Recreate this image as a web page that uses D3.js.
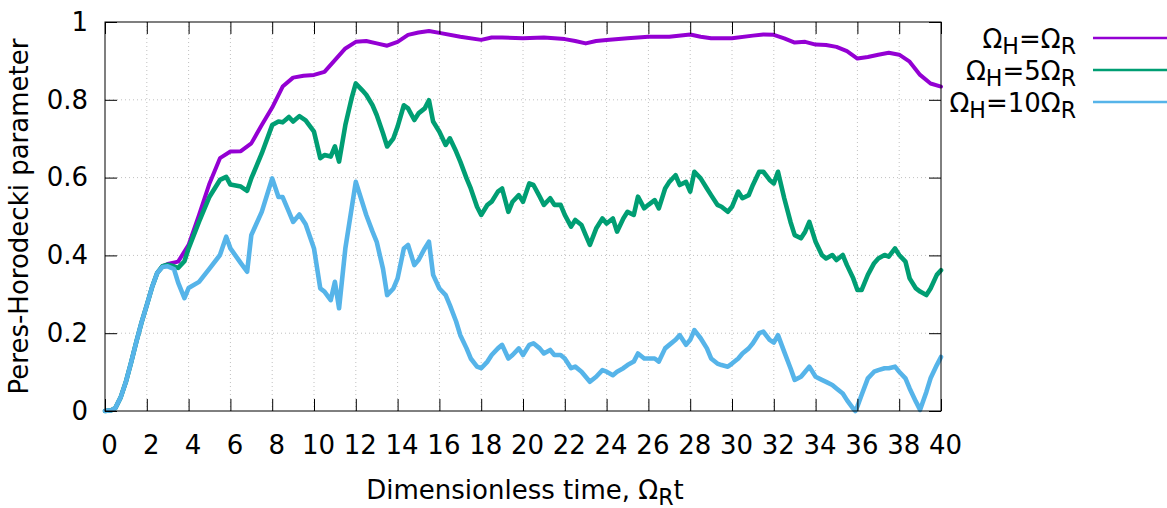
<!DOCTYPE html>
<html><head><meta charset="utf-8">
<script src="https://cdn.jsdelivr.net/npm/d3@7"></script>
<style>
html,body{margin:0;padding:0;background:#fff;}
text{font-family:"DejaVu Sans",Verdana,sans-serif;fill:#000;}
</style></head>
<body>
<svg id="chart" width="1167" height="508"></svg>
<script>
// ---------------- DATA ----------------
const xTicks = [0,2,4,6,8,10,12,14,16,18,20,22,24,26,28,30,32,34,36,38,40];
const yTicks = [0,0.2,0.4,0.6,0.8,1];
const yTickLabels = ["0","0.2","0.4","0.6","0.8","1"];
const seriesNames = ["ΩH=ΩR","ΩH=5ΩR","ΩH=10ΩR"];
// legend label parts: [text, isSubscript]
const legendParts = [
  [["Ω",0],["H",1],["=Ω",0],["R",1]],
  [["Ω",0],["H",1],["=5Ω",0],["R",1]],
  [["Ω",0],["H",1],["=10Ω",0],["R",1]]
];
const xTitleParts = [["Dimensionless time, Ω",0],["R",1],["t",0]];
const yTitle = "Peres-Horodecki parameter";

// Ω_H = Ω_R  [time, value]
const purpleData = [[0,0],[0.3,0.002],[0.5,0.008],[0.75,0.035],[1,0.075],[1.25,0.125],[1.5,0.178],[1.75,0.228],[2,0.272],[2.25,0.318],[2.5,0.355],[2.75,0.372],[3,0.378],
 [3.5,0.384],[4,0.427],[4.5,0.504],[5,0.585],[5.5,0.65],[6,0.667],[6.5,0.668],[7,0.688],[7.5,0.735],[8,0.78],[8.5,0.834],[9,0.857],[9.5,0.862],[10,0.864],[10.5,0.872],
 [11,0.902],[11.5,0.932],[12,0.949],[12.5,0.951],[13,0.945],[13.5,0.939],[14,0.949],[14.5,0.967],[15,0.973],[15.5,0.977],[16,0.972],[17,0.962],[18,0.954],[18.5,0.96],
 [19,0.96],[20,0.958],[21,0.96],[22,0.956],[22.5,0.951],[23,0.945],[23.5,0.951],[24,0.954],[25,0.958],[26,0.962],[27,0.962],[28,0.968],[28.5,0.962],[29,0.958],
 [30,0.958],[31,0.965],[31.5,0.968],[32,0.967],[32.5,0.958],[33,0.947],[33.5,0.949],[34,0.942],[34.5,0.941],[35,0.936],[35.5,0.925],[36,0.906],[36.5,0.91],
 [37,0.916],[37.5,0.921],[38,0.916],[38.5,0.898],[39,0.864],[39.5,0.842],[40,0.834]];

// Ω_H = 5Ω_R
const greenData = [[0,0],[0.3,0.002],[0.5,0.008],[0.75,0.035],[1,0.075],[1.25,0.125],[1.5,0.178],[1.75,0.228],[2,0.272],[2.25,0.318],[2.5,0.355],[2.75,0.372],[3,0.376],
 [3.3,0.372],[3.5,0.368],[3.8,0.385],[4,0.418],[4.5,0.487],[5,0.551],[5.5,0.594],[5.8,0.602],[6,0.582],[6.5,0.577],[6.8,0.566],[7,0.598],[7.5,0.662],[8,0.735],
 [8.3,0.744],[8.5,0.742],[8.8,0.756],[9,0.744],[9.3,0.758],[9.6,0.747],[10,0.718],[10.3,0.65],[10.5,0.658],[10.8,0.654],[11,0.68],[11.2,0.641],[11.5,0.735],
 [11.8,0.804],[12,0.842],[12.3,0.825],[12.5,0.813],[12.8,0.786],[13,0.761],[13.3,0.714],[13.5,0.68],[13.8,0.701],[14,0.731],[14.3,0.786],[14.5,0.778],
 [14.8,0.748],[15,0.765],[15.3,0.778],[15.5,0.799],[15.7,0.744],[16,0.718],[16.3,0.684],[16.5,0.701],[16.8,0.667],[17,0.641],[17.3,0.598],[17.5,0.572],
 [17.8,0.525],[18,0.504],[18.3,0.53],[18.5,0.538],[18.8,0.564],[19,0.572],[19.3,0.512],[19.5,0.538],[19.8,0.555],[20,0.538],[20.3,0.585],[20.5,0.581],
 [20.8,0.551],[21,0.53],[21.3,0.547],[21.5,0.53],[21.8,0.53],[22,0.504],[22.3,0.474],[22.5,0.491],[22.8,0.478],[23,0.452],[23.2,0.427],[23.5,0.469],
 [23.8,0.495],[24,0.482],[24.3,0.495],[24.5,0.461],[24.8,0.495],[25,0.512],[25.3,0.504],[25.5,0.551],[25.8,0.521],[26,0.53],[26.3,0.542],[26.5,0.521],
 [26.8,0.572],[27,0.589],[27.3,0.606],[27.5,0.581],[27.8,0.589],[28,0.564],[28.2,0.615],[28.5,0.598],[28.8,0.572],[29,0.555],[29.3,0.53],[29.5,0.525],
 [29.8,0.512],[30,0.525],[30.3,0.564],[30.5,0.547],[30.8,0.555],[31,0.581],[31.3,0.615],[31.5,0.615],[31.8,0.594],[32,0.585],[32.2,0.615],[32.5,0.547],
 [32.8,0.486],[33,0.452],[33.3,0.444],[33.5,0.461],[33.7,0.486],[34,0.435],[34.3,0.401],[34.5,0.392],[34.8,0.401],[35,0.388],[35.3,0.401],[35.5,0.375],
 [35.8,0.341],[36,0.311],[36.2,0.311],[36.5,0.35],[36.8,0.38],[37,0.392],[37.3,0.401],[37.5,0.397],[37.8,0.418],[38,0.401],[38.3,0.384],[38.5,0.341],
 [38.8,0.315],[39,0.307],[39.3,0.298],[39.5,0.315],[39.8,0.35],[40,0.362]];

// Ω_H = 10Ω_R
const blueData = [[0,0],[0.3,0.002],[0.5,0.008],[0.75,0.035],[1,0.075],[1.25,0.125],[1.5,0.178],[1.75,0.228],[2,0.272],[2.25,0.318],[2.5,0.355],[2.75,0.37],[3,0.372],
 [3.3,0.365],[3.5,0.33],[3.8,0.29],[4,0.316],[4.5,0.332],[5,0.366],[5.5,0.401],[5.8,0.448],[6,0.418],[6.5,0.38],[6.8,0.358],[7,0.452],[7.5,0.512],[8,0.598],
 [8.3,0.55],[8.5,0.55],[8.8,0.512],[9,0.486],[9.3,0.505],[9.6,0.48],[10,0.418],[10.3,0.315],[10.5,0.307],[10.8,0.285],[11,0.332],[11.2,0.264],[11.5,0.418],
 [11.8,0.521],[12,0.589],[12.3,0.538],[12.5,0.504],[12.8,0.461],[13,0.435],[13.3,0.366],[13.5,0.298],[13.8,0.315],[14,0.341],[14.3,0.418],[14.5,0.427],
 [14.8,0.375],[15,0.388],[15.3,0.418],[15.5,0.435],[15.7,0.35],[16,0.315],[16.3,0.298],[16.5,0.272],[16.8,0.23],[17,0.195],[17.3,0.161],[17.5,0.135],
 [17.8,0.114],[18,0.11],[18.3,0.127],[18.5,0.144],[18.8,0.161],[19,0.17],[19.3,0.135],[19.5,0.144],[19.8,0.161],[20,0.144],[20.3,0.17],[20.5,0.174],
 [20.8,0.161],[21,0.148],[21.3,0.157],[21.5,0.144],[21.8,0.144],[22,0.135],[22.3,0.11],[22.5,0.114],[22.8,0.101],[23,0.088],[23.2,0.075],[23.5,0.088],
 [23.8,0.105],[24,0.101],[24.3,0.092],[24.5,0.101],[24.8,0.11],[25,0.118],[25.3,0.127],[25.5,0.148],[25.8,0.135],[26,0.135],[26.3,0.135],[26.5,0.127],
 [26.8,0.161],[27,0.17],[27.3,0.183],[27.5,0.195],[27.8,0.17],[28,0.183],[28.2,0.208],[28.5,0.187],[28.8,0.161],[29,0.135],[29.3,0.122],[29.5,0.118],
 [29.8,0.114],[30,0.122],[30.3,0.135],[30.5,0.148],[30.8,0.161],[31,0.174],[31.3,0.2],[31.5,0.204],[31.8,0.183],[32,0.176],[32.2,0.195],[32.5,0.152],
 [32.8,0.11],[33,0.08],[33.3,0.088],[33.5,0.101],[33.7,0.114],[34,0.088],[34.3,0.08],[34.5,0.075],[34.8,0.067],[35,0.058],[35.3,0.045],[35.5,0.028],
 [35.8,0.006],[35.9,0.0],[36,0.012],[36.2,0.041],[36.5,0.084],[36.8,0.101],[37,0.105],[37.3,0.11],[37.5,0.11],[37.8,0.114],[38,0.101],[38.3,0.084],
 [38.5,0.058],[38.8,0.024],[39,0.003],[39.3,0.049],[39.5,0.084],[39.8,0.118],[40,0.139]];

const seriesColors = ["#9400d3","#009e73","#56b4e9"];

// ---------------- CHART ----------------
const svg = d3.select("#chart");
const L = 105, R = 941, T = 22, B = 411;
const x = d3.scaleLinear().domain([0,40]).range([L,R]);
const y = d3.scaleLinear().domain([0,1]).range([B,T]);
const FS = 26;

// grid
const grid = svg.append("g");
grid.selectAll("line.gx").data(xTicks.slice(1,-1)).enter().append("line")
  .attr("x1",d=>x(d)).attr("x2",d=>x(d)).attr("y1",T).attr("y2",B)
  .attr("stroke","#c0c0c0").attr("stroke-width",1).attr("stroke-dasharray","1,3");
grid.selectAll("line.gy").data(yTicks.slice(1,-1)).enter().append("line")
  .attr("y1",d=>y(d)).attr("y2",d=>y(d)).attr("x1",L).attr("x2",R)
  .attr("stroke","#c0c0c0").attr("stroke-width",1).attr("stroke-dasharray","1,3");

// lines
const line = d3.line().x(d=>x(d[0])).y(d=>y(d[1]));
const allData = [purpleData, greenData, blueData];
const widths = [4,4.6,4.6];
allData.forEach((data,i)=>{
  svg.append("path").datum(data).attr("d",line)
    .attr("fill","none").attr("stroke",seriesColors[i]).attr("stroke-width",widths[i])
    .attr("stroke-linejoin","round").attr("stroke-linecap","round");
});

// axes with inward ticks (mirrored)
const tl = 12;
const axB = d3.axisBottom(x).tickValues(xTicks).tickSize(-tl).tickPadding(25).tickFormat(d3.format("d"));
const axT = d3.axisTop(x).tickValues(xTicks).tickSize(-tl).tickFormat("");
const axL = d3.axisLeft(y).tickValues(yTicks).tickSize(-tl).tickPadding(17).tickFormat((d,i)=>yTickLabels[i]);
const axR = d3.axisRight(y).tickValues(yTicks).tickSize(-tl).tickFormat("");
function style(g){
  g.select(".domain").remove();
  g.selectAll(".tick line").attr("stroke","#000").attr("stroke-width",1);
  g.selectAll(".tick text").attr("font-size",FS).attr("font-family","DejaVu Sans").attr("fill","#000");
}
svg.append("g").attr("transform",`translate(0,${B})`).call(axB).call(style)
  .selectAll(".tick text").attr("dy","0.71em").attr("dx",4);
svg.append("g").attr("transform",`translate(0,${T})`).call(axT).call(style);
svg.append("g").attr("transform",`translate(${L},0)`).call(axL).call(style);
svg.append("g").attr("transform",`translate(${R},0)`).call(axR).call(style);

// border
svg.append("rect").attr("x",L).attr("y",T).attr("width",R-L).attr("height",B-T)
  .attr("fill","none").attr("stroke","#000").attr("stroke-width",1);

// rich text helper
function rich(sel, parts, fs){
  let prev = 0;
  parts.forEach(([t,sub])=>{
    const shift = sub ? 6 : 0;
    sel.append("tspan").text(t).attr("font-size", sub ? fs*0.85 : fs)
      .attr("dy", shift - prev);
    prev = shift;
  });
}

// x title
const xt = svg.append("text").attr("x",525).attr("y",499).attr("text-anchor","middle").attr("font-size",FS);
rich(xt, xTitleParts, FS);

// y title
svg.append("text").attr("transform",`translate(28,${(T+B)/2}) rotate(-90)`)
  .attr("text-anchor","middle").attr("font-size",FS).text(yTitle);

// legend
const legY = [38,70,102];
legendParts.forEach((parts,i)=>{
  const t = svg.append("text").attr("x",1076).attr("y",legY[i]+10).attr("text-anchor","end").attr("font-size",FS);
  rich(t, parts, FS);
  t.append("title").text(seriesNames[i]);
  svg.append("line").attr("x1",1093).attr("x2",1167).attr("y1",legY[i]).attr("y2",legY[i])
    .attr("stroke",seriesColors[i]).attr("stroke-width",2.5);
});
</script>
</body></html>
